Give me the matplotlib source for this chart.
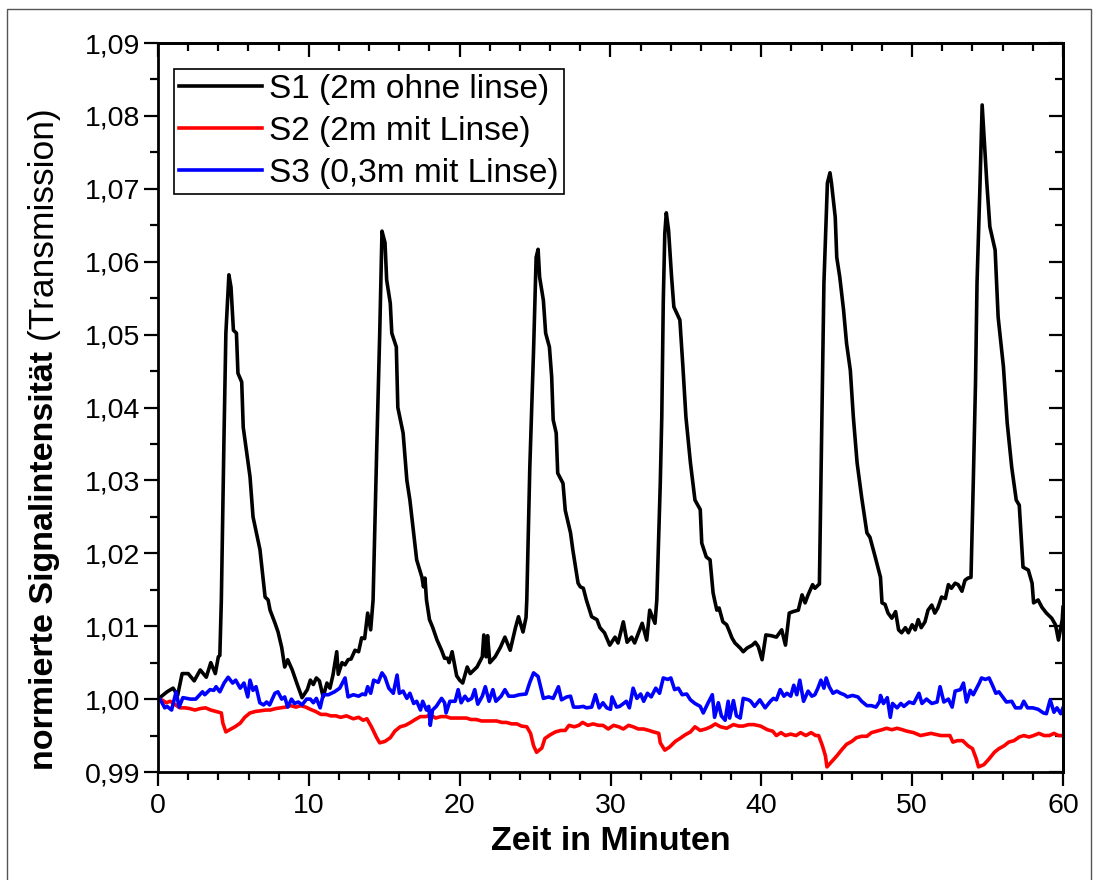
import matplotlib
matplotlib.use("Agg")
import matplotlib.pyplot as plt
import matplotlib.patches as mpatches
from matplotlib.ticker import MultipleLocator, FuncFormatter

plt.rcParams['font.family'] = ['Liberation Sans', 'DejaVu Sans']

# S1 (2m ohne linse)
s1_t = [0.0, 0.6, 1.0, 1.3, 1.6, 2.0, 2.4, 2.8, 3.2, 3.5, 3.8, 4.0, 4.1, 4.2, 4.38, 4.5, 4.7,
        4.84, 5.0, 5.2, 5.3, 5.55, 5.65, 6.1, 6.3, 6.76, 7.1, 7.3, 7.43, 7.76, 7.96, 8.2, 8.4,
        8.6, 8.9, 9.2, 9.55, 9.9, 10.1, 10.3, 10.5, 10.7, 10.95, 11.2, 11.4, 11.6, 11.85, 11.95,
        12.2, 12.4, 12.6, 12.8, 13.06, 13.3, 13.5, 13.7, 13.9, 14.1, 14.26, 14.5, 14.7, 14.85,
        15.05, 15.16, 15.4, 15.5, 15.8, 15.9, 16.25, 16.5, 16.7, 16.9, 17.15, 17.5, 17.6, 17.7,
        17.8, 18.0, 18.2, 18.5, 18.8, 19.0, 19.2, 19.3, 19.5, 19.8, 20.0, 20.2, 20.5, 20.7, 21.15,
        21.5, 21.6, 21.75, 21.85, 22.0, 22.35, 22.7, 23.0, 23.35, 23.7, 23.9, 24.2, 24.4, 24.45,
        24.65, 24.9, 25.07, 25.2, 25.3, 25.55, 25.7, 25.95, 26.1, 26.2, 26.4, 26.5, 26.85, 27.0,
        27.35, 27.5, 27.85, 28.0, 28.2, 28.4, 28.75, 29.1, 29.3, 29.6, 29.95, 30.3, 30.5, 30.85,
        31.1, 31.4, 31.6, 32.1, 32.4, 32.6, 32.95, 33.07, 33.3, 33.4, 33.5, 33.6, 33.7, 33.85,
        34.05, 34.2, 34.6, 34.8, 35.0, 35.3, 35.6, 35.95, 36.05, 36.35, 36.6, 36.8, 36.9, 37.05,
        37.2, 37.45, 37.7, 37.9, 38.05, 38.25, 38.6, 38.8, 39.05, 39.4, 39.6, 39.8, 40.05, 40.3,
        40.65, 41.0, 41.35, 41.6, 41.85, 42.1, 42.45, 42.7, 42.9, 43.1, 43.4, 43.55, 43.85, 43.95,
        44.05, 44.15, 44.3, 44.38, 44.55, 44.65, 44.9, 45.0, 45.2, 45.45, 45.65, 45.9, 46.1, 46.35,
        46.65, 47.0, 47.2, 47.55, 47.9, 48.0, 48.2, 48.4, 48.65, 48.9, 49.1, 49.3, 49.55, 49.75,
        50.0, 50.2, 50.4, 50.6, 50.85, 51.05, 51.3, 51.5, 51.7, 51.95, 52.2, 52.4, 52.6, 52.85,
        53.05, 53.3, 53.5, 53.7, 53.9, 54.05, 54.2, 54.3, 54.5, 54.64, 54.8, 54.95, 55.15, 55.5,
        55.7, 56.05, 56.3, 56.6, 56.9, 57.1, 57.35, 57.7, 57.95, 58.05, 58.35, 58.6, 58.9, 59.25,
        59.5, 59.7, 59.95, 60.0]
s1_v = [1.0000, 1.0010, 1.0015, 1.0005, 1.0035, 1.0035, 1.0025, 1.0040, 1.0030, 1.0050, 1.0035,
        1.0058, 1.0060, 1.0136, 1.0365, 1.0502, 1.0582,
        1.0565, 1.0506, 1.0502, 1.0447, 1.0435, 1.0373, 1.0305, 1.0250, 1.0205, 1.0140, 1.0136,
        1.0122, 1.0104, 1.0092, 1.0071, 1.0044,
        1.0054, 1.0040, 1.0022, 1.0002, 1.0013, 1.0026, 1.0020, 1.0029, 1.0025, 1.0003, 1.0022,
        1.0015, 1.0033, 1.0065, 1.0034,
        1.0050, 1.0047, 1.0054, 1.0055, 1.0067, 1.0065, 1.0084, 1.0083, 1.0118, 1.0095, 1.0136,
        1.0342, 1.0502, 1.0642,
        1.0626, 1.0575, 1.0543, 1.0502, 1.0483, 1.0400, 1.0365, 1.0300, 1.0273, 1.0236, 1.0191,
        1.0167, 1.0154, 1.0166,
        1.0136, 1.0109, 1.0099, 1.0081, 1.0067, 1.0056, 1.0056, 1.0050, 1.0065, 1.0032, 1.0026,
        1.0022, 1.0044, 1.0035, 1.0044,
        1.0058, 1.0088, 1.0058, 1.0087, 1.0050, 1.0058, 1.0071, 1.0085, 1.0067, 1.0098, 1.0113,
        1.0092, 1.0112, 1.0136,
        1.0318, 1.0479, 1.0606, 1.0617, 1.0579, 1.0547, 1.0502, 1.0483, 1.0442, 1.0383, 1.0365,
        1.0310, 1.0296, 1.0259,
        1.0228, 1.0205, 1.0159, 1.0154, 1.0152, 1.0136, 1.0113, 1.0109, 1.0098, 1.0091, 1.0074,
        1.0085, 1.0077, 1.0106,
        1.0078, 1.0085, 1.0077, 1.0104, 1.0081, 1.0122, 1.0104, 1.0136, 1.0296, 1.0387, 1.0547,
        1.0639, 1.0667, 1.0643,
        1.0579, 1.0538, 1.0520, 1.0456, 1.0387, 1.0324, 1.0273, 1.0260, 1.0214, 1.0195, 1.0191,
        1.0146, 1.0136, 1.0122,
        1.0125, 1.0106, 1.0102, 1.0092, 1.0084, 1.0077, 1.0070, 1.0065, 1.0070, 1.0074, 1.0078,
        1.0072, 1.0054, 1.0088,
        1.0087, 1.0085, 1.0095, 1.0074, 1.0118, 1.0120, 1.0122, 1.0143, 1.0132, 1.0143, 1.0157,
        1.0152, 1.0158, 1.0300,
        1.0434, 1.0571, 1.0661, 1.0708, 1.0722, 1.0708, 1.0661, 1.0606, 1.0579, 1.0534, 1.0488,
        1.0451, 1.0387, 1.0324,
        1.0277, 1.0228, 1.0222, 1.0195, 1.0167, 1.0132, 1.0130, 1.0118, 1.0111, 1.0120, 1.0095,
        1.0091, 1.0098, 1.0091,
        1.0102, 1.0095, 1.0109, 1.0098, 1.0106, 1.0122, 1.0129, 1.0118, 1.0125, 1.0140, 1.0138,
        1.0157, 1.0152, 1.0159,
        1.0157, 1.0148, 1.0163, 1.0166, 1.0167, 1.0296, 1.0434, 1.0571, 1.0708, 1.0815, 1.0760,
        1.0708, 1.0648, 1.0616,
        1.0524, 1.0456, 1.0379, 1.0318, 1.0273, 1.0266, 1.0181, 1.0177, 1.0159, 1.0132, 1.0136,
        1.0126, 1.0118, 1.0111,
        1.0102, 1.0081, 1.0109, 1.0126]

# S2 (2m mit Linse)
s2_t = [0.0, 0.25, 0.55, 0.8, 1.1, 1.45, 1.8, 2.1, 2.45, 2.8, 3.15, 3.5, 3.85, 4.2, 4.3, 4.5,
        4.75, 5.1, 5.45, 5.75, 6.1, 6.45, 6.8, 7.15, 7.45, 7.8, 8.15, 8.45, 8.8, 9.15, 9.45, 9.8,
        10.1, 10.45, 10.8, 11.15, 11.45, 11.8, 12.1, 12.5, 12.95, 13.3, 13.6, 13.85, 14.15, 14.5,
        14.7, 15.05, 15.4, 15.7, 16.05, 16.4, 16.75, 17.05, 17.4, 17.75, 18.1, 18.4, 18.75, 19.1,
        19.4, 19.75, 20.1, 20.45, 20.75, 21.1, 21.45, 21.8, 22.1, 22.45, 22.8, 23.1, 23.45, 23.8,
        24.1, 24.45, 24.7, 24.9, 25.1, 25.45, 25.65, 26.0, 26.35, 26.7, 27.0, 27.25, 27.6, 27.9,
        28.15, 28.5, 28.85, 29.2, 29.5, 29.85, 30.2, 30.55, 30.85, 31.2, 31.5, 31.85, 32.2, 32.55,
        32.85, 33.2, 33.3, 33.6, 33.9, 34.3, 34.6, 34.95, 35.3, 35.6, 35.95, 36.3, 36.65, 36.95,
        37.3, 37.7, 38.15, 38.5, 38.8, 39.15, 39.5, 39.95, 40.4, 40.75, 41.0, 41.3, 41.6, 41.95,
        42.3, 42.6, 42.95, 43.3, 43.6, 43.8, 44.05, 44.25, 44.35, 44.65, 45.0, 45.35, 45.65, 46.0,
        46.3, 46.65, 47.0, 47.3, 47.65, 48.0, 48.3, 48.65, 49.0, 49.35, 49.65, 50.1, 50.55, 51.25,
        51.9, 52.5, 52.7, 53.0, 53.35, 53.7, 54.0, 54.25, 54.4, 54.75, 55.1, 55.45, 55.75, 56.1,
        56.4, 56.75, 57.1, 57.4, 57.75, 58.05, 58.4, 58.75, 59.1, 59.4, 59.7, 60.0]
s2_v = [1.0000, 0.9999, 0.9995, 0.9997, 0.9993, 0.9988, 0.9988, 0.9987, 0.9985, 0.9987, 0.9988,
        0.9985, 0.9983, 0.9981, 0.9967, 0.9955,
        0.9958, 0.9962, 0.9967, 0.9975, 0.9981, 0.9983, 0.9984, 0.9985, 0.9985, 0.9987, 0.9988,
        0.9989, 0.9991, 0.9989, 0.9991, 0.9989,
        0.9986, 0.9983, 0.9979, 0.9979, 0.9977, 0.9977, 0.9975, 0.9977, 0.9973, 0.9975, 0.9971,
        0.9973, 0.9962, 0.9947,
        0.9940, 0.9942, 0.9947, 0.9956, 0.9962, 0.9964, 0.9968, 0.9972, 0.9976, 0.9976, 0.9978,
        0.9974, 0.9976, 0.9976,
        0.9974, 0.9974, 0.9974, 0.9974, 0.9972, 0.9972, 0.9970, 0.9970, 0.9970, 0.9970, 0.9968,
        0.9968, 0.9966, 0.9966,
        0.9963, 0.9962, 0.9953, 0.9936, 0.9927, 0.9933, 0.9946, 0.9951, 0.9955, 0.9957, 0.9957,
        0.9964, 0.9962, 0.9964,
        0.9968, 0.9964, 0.9966, 0.9964, 0.9964, 0.9959, 0.9964, 0.9962, 0.9959, 0.9964, 0.9962,
        0.9959, 0.9959, 0.9957,
        0.9955, 0.9953, 0.9940, 0.9930, 0.9934, 0.9942, 0.9946, 0.9951, 0.9955, 0.9962, 0.9957,
        0.9959, 0.9962, 0.9966,
        0.9962, 0.9960, 0.9965, 0.9963, 0.9963, 0.9965, 0.9965, 0.9963, 0.9958, 0.9956, 0.9950,
        0.9954, 0.9950, 0.9952,
        0.9950, 0.9954, 0.9950, 0.9954, 0.9950, 0.9950, 0.9936, 0.9922, 0.9907, 0.9914, 0.9922,
        0.9931, 0.9938, 0.9942,
        0.9947, 0.9949, 0.9949, 0.9954, 0.9956, 0.9958, 0.9960, 0.9958, 0.9960, 0.9958, 0.9956,
        0.9954, 0.9950, 0.9953,
        0.9950, 0.9950, 0.9941, 0.9943, 0.9943, 0.9936, 0.9932, 0.9918, 0.9907, 0.9910, 0.9918,
        0.9927, 0.9932, 0.9936,
        0.9941, 0.9943, 0.9948, 0.9950, 0.9948, 0.9950, 0.9953, 0.9950, 0.9950, 0.9953, 0.9950,
        0.9950]

# S3 (0,3m mit Linse)
s3_t = [0.0, 0.13, 0.45, 0.6, 0.9, 1.2, 1.4, 1.65, 1.9, 2.15, 2.5, 2.95, 3.1, 3.45, 3.7, 3.85,
        4.1, 4.38, 4.65, 4.95, 5.15, 5.45, 5.7, 5.95, 6.1, 6.3, 6.5, 6.75, 7.0, 7.2, 7.4, 7.75,
        7.95, 8.2, 8.4, 8.6, 8.85, 9.05, 9.3, 9.55, 9.85, 10.1, 10.3, 10.5, 10.75, 10.95, 11.3,
        11.5, 11.7, 12.05, 12.4, 12.6, 12.95, 13.3, 13.55, 13.75, 13.9, 14.1, 14.3, 14.6, 14.85,
        15.05, 15.3, 15.6, 15.85, 16.0, 16.25, 16.5, 16.7, 16.95, 17.15, 17.4, 17.55, 17.8, 17.95,
        18.05, 18.2, 18.45, 18.8, 19.0, 19.1, 19.35, 19.7, 19.9, 20.1, 20.35, 20.55, 20.8, 21.0,
        21.2, 21.5, 21.7, 21.95, 22.2, 22.4, 22.75, 23.0, 23.25, 23.6, 23.95, 24.4, 24.65, 24.9,
        25.2, 25.55, 25.9, 26.2, 26.55, 26.75, 27.1, 27.35, 27.55, 27.9, 28.2, 28.4, 28.75, 29.0,
        29.25, 29.5, 29.75, 30.0, 30.1, 30.4, 30.6, 30.8, 31.05, 31.25, 31.5, 31.75, 32.0, 32.2,
        32.45, 32.7, 33.0, 33.25, 33.5, 33.8, 34.0, 34.25, 34.5, 34.75, 35.05, 35.3, 35.6, 35.95,
        36.15, 36.45, 36.75, 36.9, 37.15, 37.35, 37.6, 37.8, 37.9, 38.15, 38.35, 38.6, 38.8, 39.15,
        39.3, 39.55, 39.9, 40.25, 40.6, 40.8, 41.0, 41.25, 41.5, 41.7, 41.95, 42.15, 42.35, 42.55,
        42.8, 43.1, 43.35, 43.55, 43.75, 43.95, 44.15, 44.3, 44.5, 44.75, 45.0, 45.25, 45.5, 45.7,
        46.05, 46.4, 46.65, 47.0, 47.3, 47.6, 47.85, 47.9, 48.1, 48.35, 48.55, 48.7, 49.0, 49.25,
        49.45, 49.8, 50.1, 50.45, 50.65, 50.95, 51.3, 51.65, 51.85, 52.1, 52.4, 52.65, 52.85, 53.2,
        53.4, 53.6, 53.85, 54.05, 54.45, 54.6, 54.85, 55.1, 55.3, 55.55, 55.75, 56.0, 56.25, 56.6,
        56.85, 57.2, 57.4, 57.65, 58.0, 58.35, 58.7, 58.9, 59.15, 59.4, 59.6, 59.85, 60.0]
s3_v = [1.0000, 1.0000, 0.9988, 0.9990, 0.9985, 1.0010, 0.9989, 1.0002, 1.0001, 1.0000, 1.0000,
        1.0010, 1.0006, 1.0013, 1.0012, 1.0017,
        1.0010, 1.0022, 1.0030, 1.0022, 1.0026, 1.0015, 1.0022, 1.0003, 1.0026, 1.0012, 1.0017,
        0.9995, 0.9992, 0.9996, 0.9992, 1.0008,
        1.0010, 1.0000, 1.0003, 0.9989, 1.0000, 0.9994, 0.9996, 0.9992, 1.0000, 1.0000, 0.9995,
        1.0001, 0.9988, 1.0006, 1.0006,
        1.0008, 1.0010, 1.0015, 1.0029, 1.0003, 1.0006, 1.0004, 1.0007, 1.0006, 1.0017, 1.0008,
        1.0026, 1.0023, 1.0036,
        1.0030, 1.0015, 1.0008, 1.0033, 1.0008, 1.0011, 1.0001, 1.0008, 0.9994, 0.9997, 0.9985,
        0.9997, 0.9985, 0.9990,
        0.9964, 0.9985, 0.9990, 1.0001, 0.9995, 0.9981, 0.9997, 0.9997, 1.0013, 0.9995, 1.0004,
        0.9998, 1.0001, 1.0013,
        0.9993, 1.0004, 1.0017, 0.9997, 1.0013, 0.9997, 1.0004, 1.0013, 1.0004, 1.0004, 1.0006,
        1.0007, 1.0023, 1.0036,
        1.0031, 1.0001, 1.0003, 1.0001, 1.0017, 0.9999, 1.0003, 1.0004, 0.9989, 0.9989, 0.9990,
        0.9988, 0.9989, 1.0006,
        0.9988, 0.9995, 0.9988, 0.9986, 1.0003, 0.9989, 0.9990, 0.9993, 0.9997, 0.9988, 1.0015,
        1.0001, 1.0007, 0.9997,
        1.0008, 1.0003, 1.0015, 1.0008, 1.0029, 1.0027, 1.0029, 1.0013, 1.0015, 1.0006, 1.0007,
        0.9999, 0.9994, 0.9990,
        0.9981, 0.9994, 1.0006, 0.9975, 0.9995, 0.9977, 0.9971, 0.9997, 0.9974, 0.9998, 0.9977,
        0.9974, 1.0001, 0.9999,
        0.9997, 0.9990, 0.9999, 0.9988, 0.9997, 1.0001, 0.9999, 1.0013, 1.0004, 1.0008, 1.0004,
        1.0019, 1.0006, 1.0026,
        0.9997, 1.0011, 1.0004, 1.0006, 1.0015, 1.0026, 1.0015, 1.0029, 1.0017, 1.0008, 1.0011,
        1.0008, 1.0006, 1.0003,
        1.0005, 1.0003, 0.9997, 0.9991, 0.9991, 0.9989, 0.9997, 1.0005, 0.9994, 1.0002, 0.9975,
        0.9994, 0.9988, 0.9994,
        0.9990, 0.9996, 0.9994, 1.0008, 0.9994, 1.0000, 0.9994, 0.9996, 1.0017, 0.9996, 1.0000,
        0.9989, 1.0011, 1.0013,
        1.0022, 0.9996, 1.0012, 1.0006, 1.0022, 1.0029, 1.0027, 1.0029, 1.0020, 1.0008, 1.0010,
        1.0003, 0.9996, 0.9997,
        0.9988, 0.9988, 0.9997, 0.9988, 0.9988, 0.9986, 0.9981, 0.9980, 0.9999, 0.9982, 0.9988,
        0.9980, 0.9988]

labels = ['S1 (2m ohne linse)', 'S2 (2m mit Linse)', 'S3 (0,3m mit Linse)']
colors = ['black', '#ff0000', '#0000ff']

W, H = 1096, 880
fig = plt.figure(figsize=(W / 100, H / 100), dpi=100)
ax = fig.add_axes([158 / W, 1 - 772 / H, (1063 - 158) / W, (772 - 43) / H])

ax.plot(s1_t, s1_v, color=colors[0], lw=2.6, label=labels[0])
ax.plot(s2_t, s2_v, color=colors[1], lw=2.6, label=labels[1])
ax.plot(s3_t, s3_v, color=colors[2], lw=2.6, label=labels[2])

ax.set_xlim(0, 60)
ax.set_ylim(0.99, 1.09)
ax.xaxis.set_major_locator(MultipleLocator(10))
ax.xaxis.set_minor_locator(MultipleLocator(2))
ax.yaxis.set_major_locator(MultipleLocator(0.01))
ax.yaxis.set_minor_locator(MultipleLocator(0.005))
ax.yaxis.set_major_formatter(FuncFormatter(lambda v, p: f"{v:.2f}".replace('.', ',')))

for s in ax.spines.values():
    s.set_linewidth(2.0)
ax.tick_params(which='both', width=1.6, labelsize=20.5, color='black')
ax.tick_params(which='major', length=10)
ax.tick_params(which='minor', length=5.5)
ax.tick_params(axis='x', which='both', direction='out', pad=5)
ax.tick_params(axis='y', which='both', direction='out', pad=3)

# inward ticks on top and right
sec_x = ax.secondary_xaxis('top')
sec_x.xaxis.set_major_locator(MultipleLocator(10))
sec_x.xaxis.set_minor_locator(MultipleLocator(2))
sec_x.tick_params(which='both', direction='in', width=1.6, labeltop=False)
sec_x.tick_params(which='major', length=10)
sec_x.tick_params(which='minor', length=5.5)
sec_x.spines['top'].set_linewidth(2.0)
sec_y = ax.secondary_yaxis('right')
sec_y.yaxis.set_major_locator(MultipleLocator(0.01))
sec_y.yaxis.set_minor_locator(MultipleLocator(0.005))
sec_y.tick_params(which='both', direction='in', width=1.6, labelright=False)
sec_y.tick_params(which='major', length=10)
sec_y.tick_params(which='minor', length=5.5)
sec_y.spines['right'].set_linewidth(2.0)

ax.set_xlabel('Zeit in Minuten', fontsize=24.5, fontweight='bold', labelpad=5)

leg = ax.legend(loc='upper left', bbox_to_anchor=(16 / 905, (772 - 69) / 729),
                borderaxespad=0, fontsize=24, handlelength=2.5, handletextpad=0.2,
                borderpad=0.15, labelspacing=0.33, fancybox=False, framealpha=1,
                edgecolor='black')
leg.get_frame().set_linewidth(1.2)

# y label: bold part + normal part
yb = fig.text(45 / W, 1 - 770 / H, 'normierte Signalintensität', rotation=90,
              ha='center', va='bottom', fontsize=24.5, fontweight='bold')
fig.canvas.draw()
bb = yb.get_window_extent()
fig.text(45 / W, bb.y1 / H, ' (Transmission)', rotation=90, ha='center', va='bottom',
         fontsize=25.5)

# thin frame round the figure
fig.patches.append(mpatches.Rectangle((7 / W, -0.05), (1091 - 7) / W, 1.05 - 9 / H,
                                      transform=fig.transFigure, fill=False,
                                      edgecolor='#555555', lw=1.0))

fig.savefig('out.png', dpi=100)
